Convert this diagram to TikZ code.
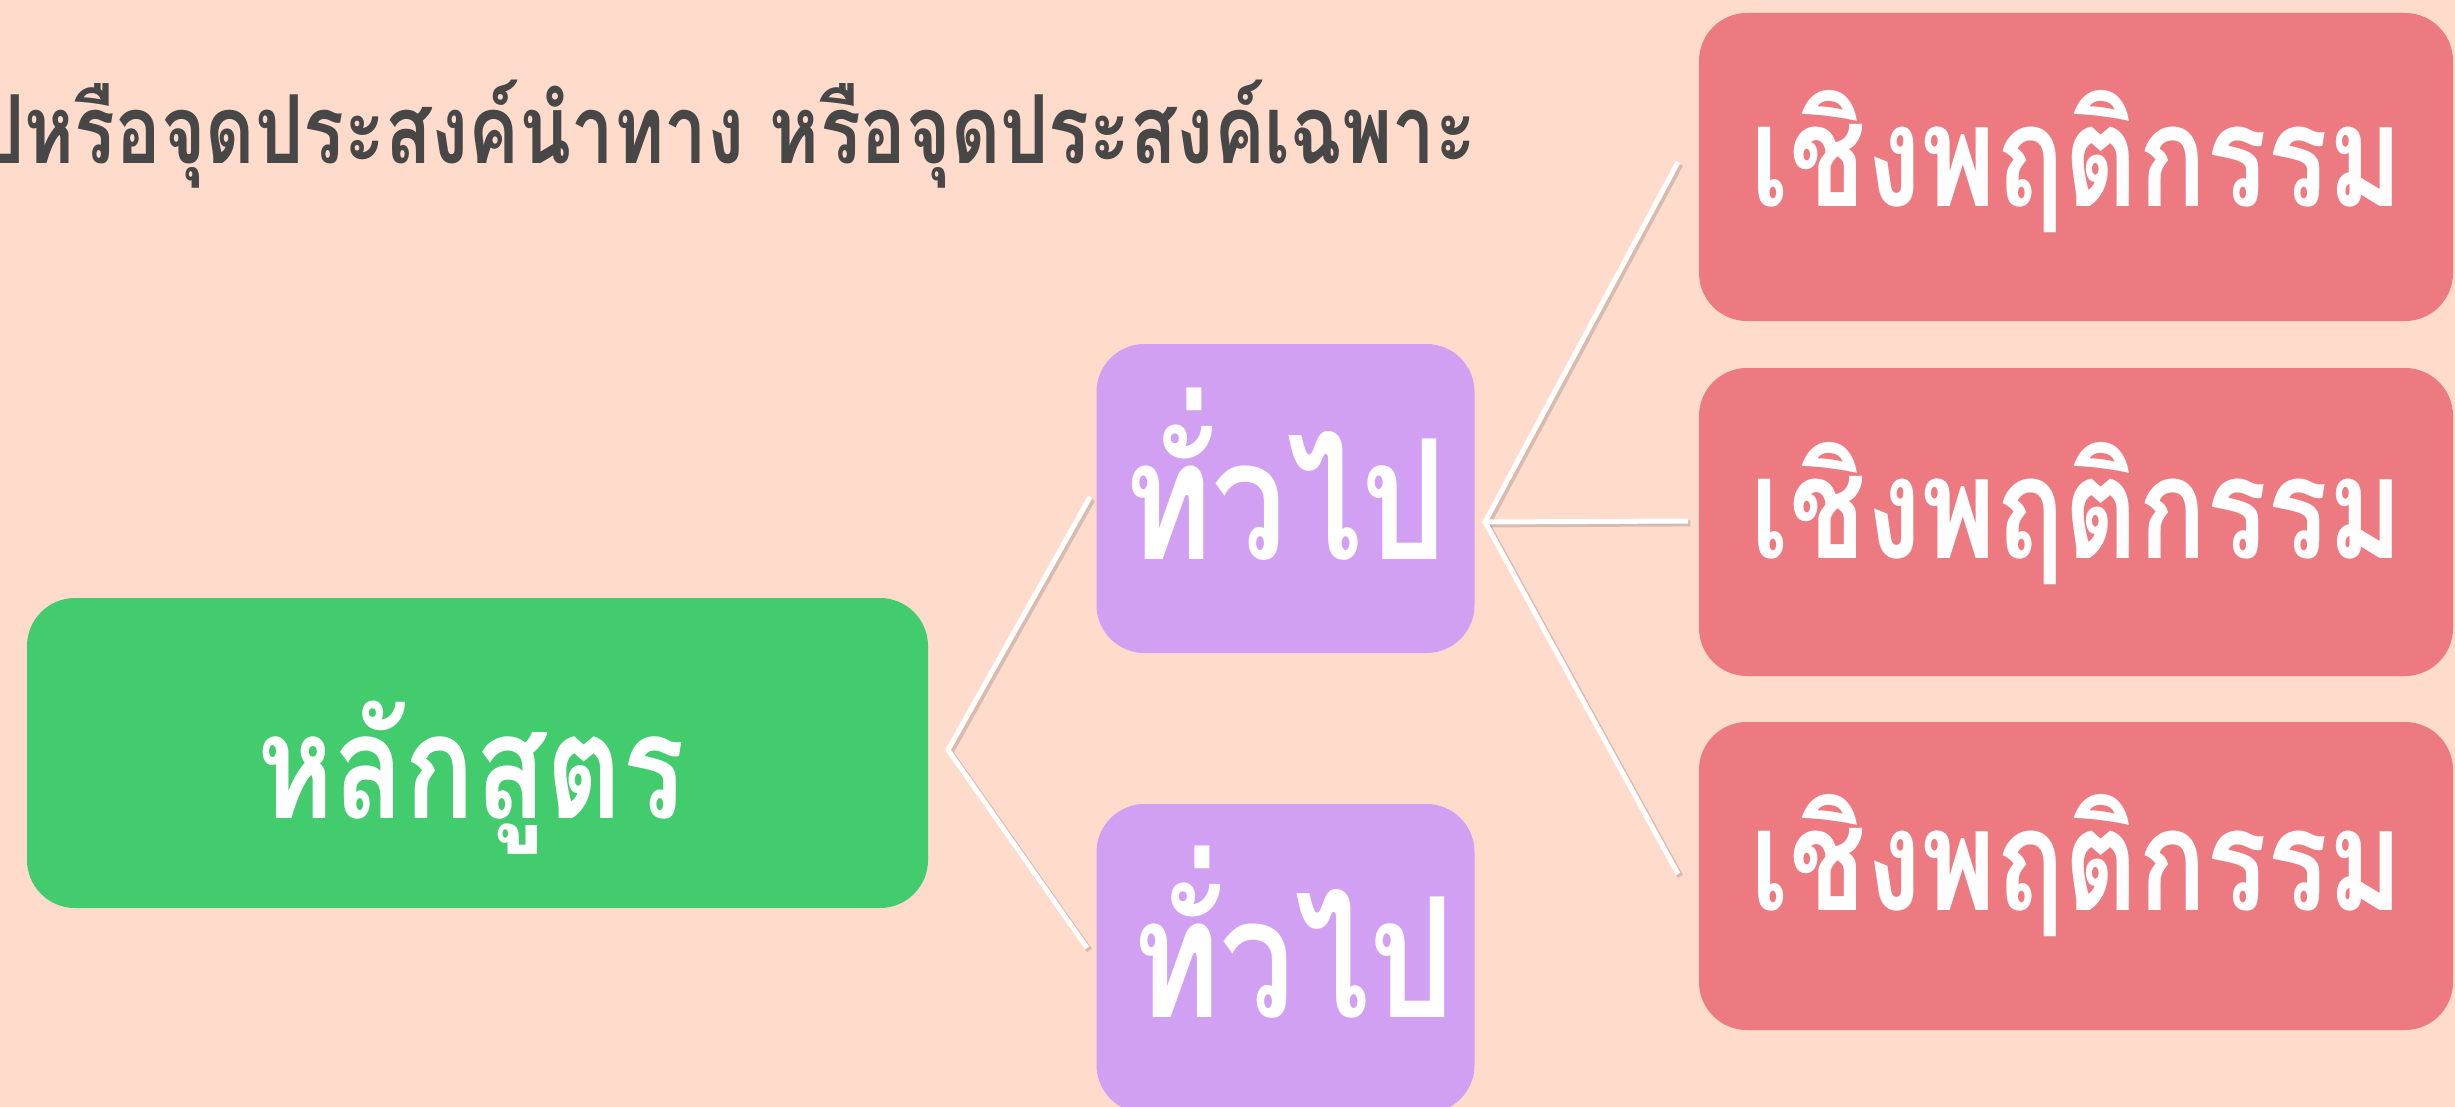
\documentclass[tikz,border=0pt]{standalone}
\usepackage{fontspec}
\usepackage{graphicx}
\newfontfamily\thai[Script=Thai,FakeStretch=0.8]{Loma}
\definecolor{bgc}{HTML}{FFDBCC}
\definecolor{gfill}{HTML}{42CC6D}
\definecolor{pfill}{HTML}{D1A0F3}
\definecolor{rfill}{HTML}{EC7A80}
\definecolor{ttl}{HTML}{474747}
\begin{document}
\begin{tikzpicture}[x=0.5pt,y=-0.5pt,
  box/.style={rectangle, rounded corners=24pt, inner sep=0pt, draw=none},
  gbox/.style={box, fill=gfill, minimum width=450.5pt, minimum height=155pt},
  pbox/.style={box, fill=pfill, minimum width=189pt, minimum height=154.5pt},
  rbox/.style={box, fill=rfill, minimum width=377pt, minimum height=154pt},
  lbl/.style={inner sep=0pt, anchor=base, text=white, font=\thai\bfseries},
  shadowline/.style={draw=black!70, opacity=0.22, line width=3pt, line join=miter, transform canvas={shift={(1.2pt,-1.2pt)}}},
  wline/.style={draw=white, line width=2.5pt, line join=miter}]
\useasboundingbox (0,0) rectangle (2455,1107);
\fill[bgc] (0,0) rectangle (2455,1107);

% title
\node[inner sep=0pt, anchor=base east, text=ttl, font=\thai\bfseries] (title) at (1477,164)
  {\resizebox{750pt}{!}{ปหรือจุดประสงค์นำทาง หรือจุดประสงค์เฉพาะ}};

% boxes
\node[gbox] (g) at (477.5,753) {};
\node[pbox] (p1) at (1285.5,498.5) {};
\node[pbox] (p2) at (1285.5,958.5) {};
\node[rbox] (r1) at (2076,167) {};
\node[rbox] (r2) at (2076,522) {};
\node[rbox] (r3) at (2076,876) {};

% labels
\node[lbl] (gt) at (471,818) {\resizebox{214pt}{!}{หลักสูตร}};
\node[lbl] (p1t) at (1285,559) {\resizebox{161pt}{!}{ทั่วไป}};
\node[lbl] (p2t) at (1293,1017) {\resizebox{161pt}{!}{ทั่วไป}};
\node[lbl] (r1t) at (2077,207) {\resizebox{326.5pt}{!}{เชิงพฤติกรรม}};
\node[lbl] (r2t) at (2077,558) {\resizebox{326.5pt}{!}{เชิงพฤติกรรม}};
\node[lbl] (r3t) at (2077,910) {\resizebox{326.5pt}{!}{เชิงพฤติกรรม}};

% connector points
\coordinate (v1) at (948,750);
\coordinate (p1in) at (1090,497);
\coordinate (p2in) at (1087,948);
\coordinate (v2) at (1485,522);
\coordinate (r1in) at (1678,162);
\coordinate (r2in) at (1688,521);
\coordinate (r3in) at (1678,874);

\draw[shadowline] (p1in) -- (v1) -- (p2in);
\draw[shadowline] (r1in) -- (v2) -- (r3in);
\draw[shadowline] (v2) -- (r2in);
\draw[wline] (p1in) -- (v1) -- (p2in);
\draw[wline] (r1in) -- (v2) -- (r3in);
\draw[wline] (v2) -- (r2in);
\end{tikzpicture}
\end{document}
